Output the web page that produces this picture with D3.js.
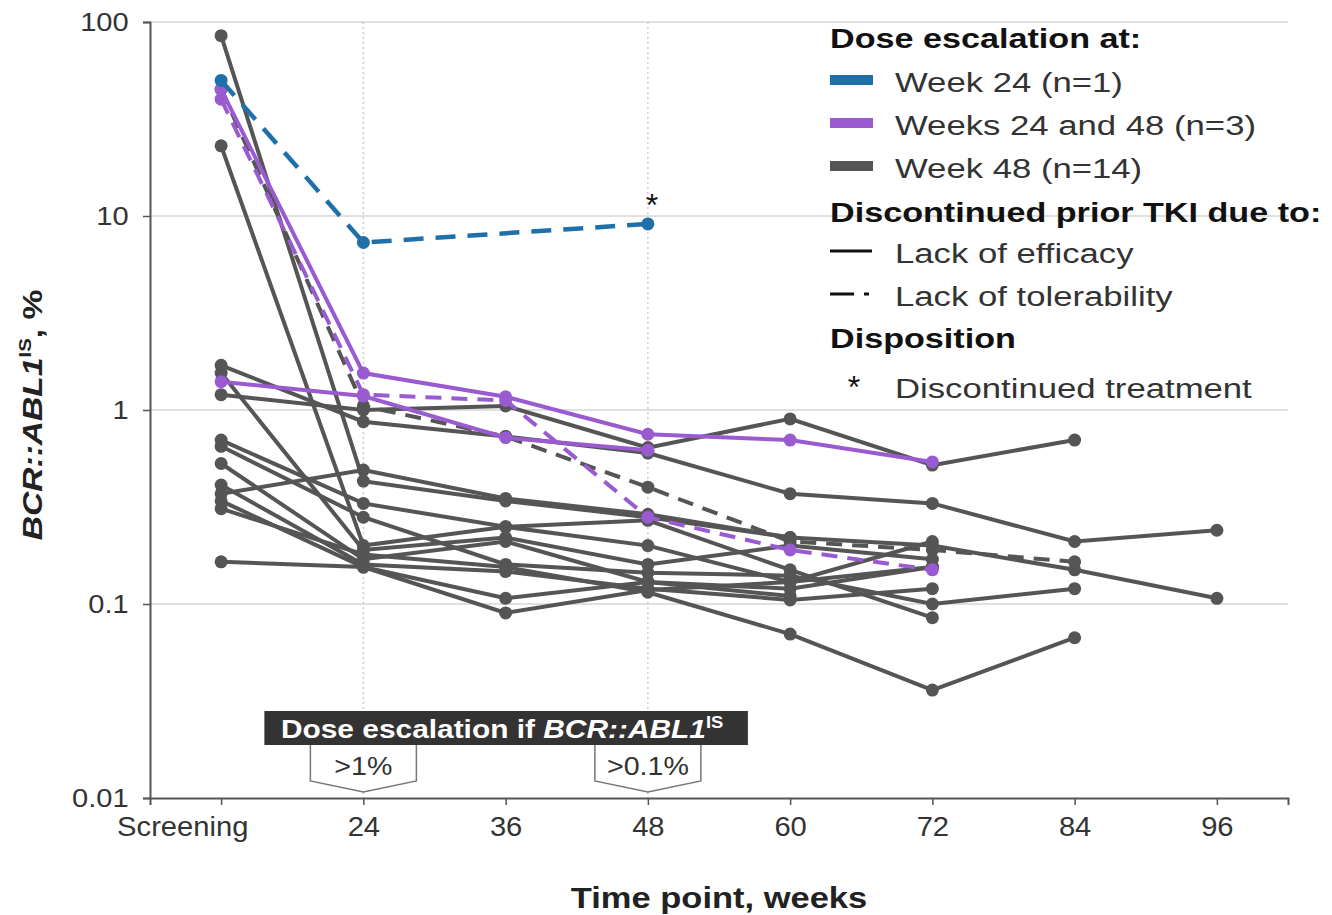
<!DOCTYPE html>
<html>
<head>
<meta charset="utf-8">
<script src="https://cdn.jsdelivr.net/npm/d3@7"></script>
<style>
  body { margin: 0; background: #fff; }
  text { font-family: "Liberation Sans", Arial, sans-serif; }
</style>
</head>
<body>
<div id="chart"></div>
<script>
// time points on the x axis
const timePoints = ["Screening", "24", "36", "48", "60", "72", "84", "96"];
const yTicks = [100, 10, 1, 0.1, 0.01];

// legend groups
const groupLabels = ["Week 24 (n=1)", "Weeks 24 and 48 (n=3)", "Week 48 (n=14)"];
const groupColors = ["#1f6fa8", "#9b5bd0", "#555555"];

// BCR::ABL1 IS % per patient, one value per time point (null = not measured)
const patientValues = [
  [50, 7.3, null, 9.1, null, null, null, null],
  [45, 1.55, 1.17, 0.75, 0.70, 0.54, null, null],
  [1.4, 1.18, 0.72, 0.62, null, null, null, null],
  [40, 1.2, 1.12, 0.28, 0.19, 0.15, null, null],
  [45, 1.05, 0.73, 0.4, 0.21, 0.19, 0.165, null],
  [1.2, 1.0, 1.05, 0.64, 0.9, 0.52, 0.7, null],
  [1.7, 0.87, 0.73, 0.6, 0.37, 0.33, 0.21, 0.24],
  [85, 0.43, 0.34, 0.28, 0.22, 0.2, 0.15, 0.107],
  [23, 0.2, 0.25, 0.2, 0.13, 0.21, null, null],
  [1.55, 0.19, 0.22, 0.16, 0.2, 0.17, null, null],
  [0.7, 0.33, 0.25, 0.27, 0.15, 0.085, null, null],
  [0.65, 0.28, 0.16, 0.145, 0.14, 0.1, 0.12, null],
  [0.53, 0.17, 0.21, 0.13, 0.12, 0.155, null, null],
  [0.41, 0.16, 0.147, 0.12, 0.105, 0.12, null, null],
  [0.37, 0.49, 0.35, 0.29, 0.22, null, null, null],
  [0.34, 0.155, 0.107, 0.13, 0.11, null, null, null],
  [0.31, 0.18, 0.155, 0.115, 0.07, 0.036, 0.067, null],
  [0.165, 0.155, 0.09, 0.118, 0.13, 0.155, null, null]
];
// index into groupLabels for each patient
const patientGroup = [0, 1, 1, 1, 2, 2, 2, 2, 2, 2, 2, 2, 2, 2, 2, 2, 2, 2];
// reason for stopping prior TKI: "E" efficacy (solid), "T" tolerability (dashed)
const patientReason = ["T", "E", "E", "T", "T", "E", "E", "E", "E", "E", "E", "E", "E", "E", "E", "E", "E", "E"];
// time point where treatment was discontinued (asterisk), -1 = none
const discontinuedAt = [3, -1, -1, -1, -1, -1, -1, -1, -1, -1, -1, -1, -1, -1, -1, -1, -1, -1];

const width = 1332, height = 915;
const plotLeft = 150, plotRight = 1288, plotTop = 22, plotBottom = 798;

const svg = d3.select("#chart").append("svg")
    .attr("width", width)
    .attr("height", height);

// text that is a bit wider than the installed Arial clone
function wideText(parent, px, py, sx, rotate) {
  return parent.append("text")
      .attr("transform", `translate(${px},${py})` + (rotate ? ` rotate(${rotate})` : "") + ` scale(${sx},1)`);
}

const x = d3.scalePoint()
    .domain(timePoints)
    .range([plotLeft, plotRight])
    .padding(0.5);

const y = d3.scaleLog()
    .domain([0.01, 100])
    .range([plotBottom, plotTop]);

// grid lines
svg.selectAll(".hgrid")
    .data(yTicks.filter(d => d > 0.01))
    .join("line")
        .attr("x1", plotLeft)
        .attr("x2", plotRight)
        .attr("y1", d => y(d))
        .attr("y2", d => y(d))
        .attr("stroke", "#e0e0e0")
        .attr("stroke-width", 2);

svg.selectAll(".vgrid")
    .data(["24", "48"])
    .join("line")
        .attr("x1", d => x(d))
        .attr("x2", d => x(d))
        .attr("y1", plotTop)
        .attr("y2", plotBottom)
        .attr("stroke", "#cccccc")
        .attr("stroke-width", 1.5)
        .attr("stroke-dasharray", "2,3");

// axes
const yAxis = svg.append("g")
    .attr("transform", `translate(${plotLeft},0)`)
    .call(d3.axisLeft(y).tickValues(yTicks).tickFormat(d => String(d)).tickSize(7).tickPadding(12));

const xAxis = svg.append("g")
    .attr("transform", `translate(0,${plotBottom})`)
    .call(d3.axisBottom(x).tickSize(7).tickPadding(12));

[yAxis, xAxis].forEach(g => {
  g.select(".domain").attr("stroke", "#555").attr("stroke-width", 2);
  g.selectAll(".tick line").attr("stroke", "#555").attr("stroke-width", 1.5);
  g.selectAll(".tick text")
      .attr("fill", "#333")
      .style("font-family", "'Liberation Sans', Arial, sans-serif");
});
yAxis.selectAll(".tick text").style("font-size", "26px").attr("transform", "scale(1.12,1)");
xAxis.selectAll(".tick text").style("font-size", "27px").attr("transform", "scale(1.08,1)");
xAxis.selectAll(".tick text").filter(d => d === "Screening").attr("dx", -36);

// annotation: dose escalation thresholds
const boxLeft = x("24") - 99, boxRight = x("48") + 100;
svg.append("rect")
    .attr("x", boxLeft)
    .attr("y", 711)
    .attr("width", boxRight - boxLeft)
    .attr("height", 34)
    .attr("fill", "#333");

const boxText = wideText(svg, (boxLeft + boxRight) / 2 - 4, 738, 1.15)
    .attr("text-anchor", "middle")
    .attr("fill", "#fff")
    .style("font-size", "26px")
    .style("font-weight", "bold");
boxText.append("tspan").text("Dose escalation if ");
boxText.append("tspan").style("font-style", "italic").text("BCR::ABL1");
boxText.append("tspan").attr("dy", -10).style("font-size", "16px").text("IS");

const thresholds = [{ week: "24", label: ">1%" }, { week: "48", label: ">0.1%" }];
svg.selectAll(".callout")
    .data(thresholds)
    .join("path")
        .attr("d", d => {
          const cx = x(d.week);
          return `M${cx - 53},745 L${cx - 53},781 L${cx},792 L${cx + 53},781 L${cx + 53},745`;
        })
        .attr("fill", "#fff")
        .attr("stroke", "#777")
        .attr("stroke-width", 1.5);

thresholds.forEach(d => {
  wideText(svg, x(d.week), 775, 1.1)
      .attr("text-anchor", "middle")
      .attr("fill", "#333")
      .style("font-size", "26px")
      .text(d.label);
});

// patient lines, gray first so coloured groups sit on top
const order = d3.range(patientValues.length).sort((a, b) => patientGroup[b] - patientGroup[a]);

const line = d3.line()
    .x(d => x(d.t))
    .y(d => y(d.v));

const patients = order.map(i => ({
  group: patientGroup[i],
  reason: patientReason[i],
  stop: discontinuedAt[i],
  values: patientValues[i],
  points: patientValues[i]
      .map((v, j) => ({ t: timePoints[j], v: v }))
      .filter(p => p.v !== null)
}));

const pg = svg.selectAll(".patient")
    .data(patients)
    .join("g");

pg.append("path")
    .attr("d", d => line(d.points))
    .attr("fill", "none")
    .attr("stroke", d => groupColors[d.group])
    .attr("stroke-width", d => d.group === 0 ? 4.5 : 4)
    .attr("stroke-dasharray", d => d.reason === "T" ? (d.group === 0 ? "20,12" : "16,10") : null);

pg.selectAll("circle")
    .data(d => d.points.map(p => ({ ...p, group: d.group })))
    .join("circle")
        .attr("cx", d => x(d.t))
        .attr("cy", d => y(d.v))
        .attr("r", 6.5)
        .attr("fill", d => groupColors[d.group]);

svg.selectAll(".stop-mark")
    .data(patients.filter(d => d.stop >= 0))
    .join("text")
        .attr("x", d => x(timePoints[d.stop]) + 4)
        .attr("y", d => y(d.values[d.stop]) - 8)
        .attr("text-anchor", "middle")
        .attr("fill", "#111")
        .style("font-size", "32px")
        .text("*");

// axis titles
const yTitle = wideText(svg, 42, 415, 1.2, -90)
    .attr("text-anchor", "middle")
    .attr("fill", "#222")
    .style("font-size", "28px")
    .style("font-weight", "bold");
yTitle.append("tspan").style("font-style", "italic").text("BCR::ABL1");
yTitle.append("tspan").attr("dy", -11).style("font-size", "17px").text("IS");
yTitle.append("tspan").attr("dy", 11).text(", %");

wideText(svg, (plotLeft + plotRight) / 2, 908, 1.15)
    .attr("text-anchor", "middle")
    .attr("fill", "#222")
    .style("font-size", "30px")
    .style("font-weight", "bold")
    .text("Time point, weeks");

// legend
const legendX = 830;
const heading = (txt, yy) => wideText(svg, legendX, yy, 1.22)
    .attr("fill", "#111")
    .style("font-size", "28px")
    .style("font-weight", "bold")
    .text(txt);
const item = (txt, yy) => wideText(svg, legendX + 65, yy, 1.24)
    .attr("fill", "#333")
    .style("font-size", "28px")
    .text(txt);

heading("Dose escalation at:", 48);
groupLabels.forEach((g, i) => {
  const yy = 92 + i * 43;
  svg.append("rect")
      .attr("x", legendX).attr("y", yy - 17)
      .attr("width", 43).attr("height", 10)
      .attr("fill", groupColors[i]);
  item(g, yy);
});
heading("Discontinued prior TKI due to:", 222);
svg.append("line")
    .attr("x1", legendX).attr("x2", legendX + 42).attr("y1", 251).attr("y2", 251)
    .attr("stroke", "#111").attr("stroke-width", 3);
item("Lack of efficacy", 263);
svg.append("line")
    .attr("x1", legendX).attr("x2", legendX + 42).attr("y1", 294).attr("y2", 294)
    .attr("stroke", "#111").attr("stroke-width", 3)
    .attr("stroke-dasharray", "24,10,5,100");
item("Lack of tolerability", 306);
heading("Disposition", 348);
svg.append("text")
    .attr("x", legendX + 24).attr("y", 398)
    .attr("text-anchor", "middle")
    .attr("fill", "#111")
    .style("font-size", "32px")
    .text("*");
item("Discontinued treatment", 398);
</script>
</body>
</html>
